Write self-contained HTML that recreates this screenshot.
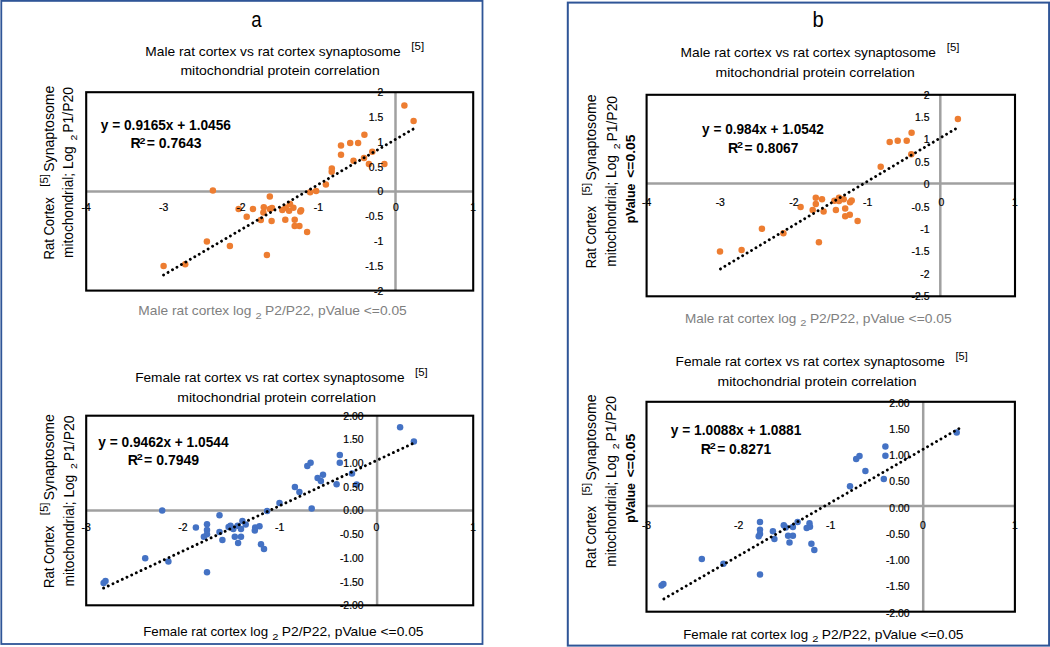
<!DOCTYPE html><html><head><meta charset="utf-8"><style>html,body{margin:0;padding:0;background:#fff;}svg{display:block;}</style></head><body>
<svg width="1050" height="647" viewBox="0 0 1050 647" font-family='"Liberation Sans", sans-serif'>
<rect x="0" y="0" width="1050" height="647" fill="#fff"/>
<rect x="1.3" y="0.9" width="481.2" height="643.1" fill="none" stroke="#2F5597" stroke-width="1.8"/>
<rect x="567.8" y="2.6" width="481.3" height="643" fill="none" stroke="#2F5597" stroke-width="2"/>
<text x="251.20" y="26.80" font-size="22" textLength="10.40" lengthAdjust="spacingAndGlyphs">a</text>
<text x="812.60" y="26.80" font-size="22" textLength="11.20" lengthAdjust="spacingAndGlyphs">b</text>
<line x1="86.20" y1="191.40" x2="473.20" y2="191.40" stroke="#A0A0A0" stroke-width="2.5"/>
<line x1="395.50" y1="92.20" x2="395.50" y2="290.60" stroke="#A0A0A0" stroke-width="2.5"/>
<rect x="86.20" y="92.20" width="387.00" height="198.40" fill="none" stroke="#000" stroke-width="2.1"/>
<circle cx="163.6" cy="266.0" r="3.25" fill="#ED7D31"/>
<circle cx="185.2" cy="264.3" r="3.25" fill="#ED7D31"/>
<circle cx="206.9" cy="241.4" r="3.25" fill="#ED7D31"/>
<circle cx="229.9" cy="246.0" r="3.25" fill="#ED7D31"/>
<circle cx="212.9" cy="190.4" r="3.25" fill="#ED7D31"/>
<circle cx="238.6" cy="209.0" r="3.25" fill="#ED7D31"/>
<circle cx="246.7" cy="216.7" r="3.25" fill="#ED7D31"/>
<circle cx="253.0" cy="209.0" r="3.25" fill="#ED7D31"/>
<circle cx="260.8" cy="220.1" r="3.25" fill="#ED7D31"/>
<circle cx="263.8" cy="207.3" r="3.25" fill="#ED7D31"/>
<circle cx="263.4" cy="212.4" r="3.25" fill="#ED7D31"/>
<circle cx="269.8" cy="196.6" r="3.25" fill="#ED7D31"/>
<circle cx="269.8" cy="209.0" r="3.25" fill="#ED7D31"/>
<circle cx="271.6" cy="221.0" r="3.25" fill="#ED7D31"/>
<circle cx="272.0" cy="208.1" r="3.25" fill="#ED7D31"/>
<circle cx="266.9" cy="255.0" r="3.25" fill="#ED7D31"/>
<circle cx="282.3" cy="209.9" r="3.25" fill="#ED7D31"/>
<circle cx="285.7" cy="207.7" r="3.25" fill="#ED7D31"/>
<circle cx="290.0" cy="203.9" r="3.25" fill="#ED7D31"/>
<circle cx="289.1" cy="210.7" r="3.25" fill="#ED7D31"/>
<circle cx="293.4" cy="207.7" r="3.25" fill="#ED7D31"/>
<circle cx="285.3" cy="219.7" r="3.25" fill="#ED7D31"/>
<circle cx="294.7" cy="219.7" r="3.25" fill="#ED7D31"/>
<circle cx="294.7" cy="226.1" r="3.25" fill="#ED7D31"/>
<circle cx="299.4" cy="226.1" r="3.25" fill="#ED7D31"/>
<circle cx="300.3" cy="211.6" r="3.25" fill="#ED7D31"/>
<circle cx="301.1" cy="210.3" r="3.25" fill="#ED7D31"/>
<circle cx="307.1" cy="232.1" r="3.25" fill="#ED7D31"/>
<circle cx="310.1" cy="192.3" r="3.25" fill="#ED7D31"/>
<circle cx="316.1" cy="191.0" r="3.25" fill="#ED7D31"/>
<circle cx="325.9" cy="184.5" r="3.25" fill="#ED7D31"/>
<circle cx="331.7" cy="171.7" r="3.25" fill="#ED7D31"/>
<circle cx="331.8" cy="168.6" r="3.25" fill="#ED7D31"/>
<circle cx="341.0" cy="145.6" r="3.25" fill="#ED7D31"/>
<circle cx="341.0" cy="154.8" r="3.25" fill="#ED7D31"/>
<circle cx="350.2" cy="143.0" r="3.25" fill="#ED7D31"/>
<circle cx="358.1" cy="143.0" r="3.25" fill="#ED7D31"/>
<circle cx="364.4" cy="134.8" r="3.25" fill="#ED7D31"/>
<circle cx="353.5" cy="160.7" r="3.25" fill="#ED7D31"/>
<circle cx="364.0" cy="158.1" r="3.25" fill="#ED7D31"/>
<circle cx="368.9" cy="164.0" r="3.25" fill="#ED7D31"/>
<circle cx="372.3" cy="151.8" r="3.25" fill="#ED7D31"/>
<circle cx="384.4" cy="164.0" r="3.25" fill="#ED7D31"/>
<circle cx="404.4" cy="105.5" r="3.25" fill="#ED7D31"/>
<circle cx="413.6" cy="121.0" r="3.25" fill="#ED7D31"/>
<line x1="163.60" y1="275.00" x2="413.30" y2="129.00" stroke="#000" stroke-width="2.9" stroke-linecap="round" stroke-dasharray="0.01 5.15"/>
<text x="86.20" y="210.90" font-size="10.4" text-anchor="middle" stroke="#000" stroke-width="0.2">-4</text>
<text x="163.60" y="210.90" font-size="10.4" text-anchor="middle" stroke="#000" stroke-width="0.2">-3</text>
<text x="241.00" y="210.90" font-size="10.4" text-anchor="middle" stroke="#000" stroke-width="0.2">-2</text>
<text x="318.40" y="210.90" font-size="10.4" text-anchor="middle" stroke="#000" stroke-width="0.2">-1</text>
<text x="395.80" y="210.90" font-size="10.4" text-anchor="middle" stroke="#000" stroke-width="0.2">0</text>
<text x="473.20" y="210.90" font-size="10.4" text-anchor="middle" stroke="#000" stroke-width="0.2">1</text>
<text x="383.20" y="96.10" font-size="10.4" text-anchor="end" stroke="#000" stroke-width="0.2">2</text>
<text x="383.20" y="120.90" font-size="10.4" text-anchor="end" stroke="#000" stroke-width="0.2">1.5</text>
<text x="383.20" y="145.70" font-size="10.4" text-anchor="end" stroke="#000" stroke-width="0.2">1</text>
<text x="383.20" y="170.50" font-size="10.4" text-anchor="end" stroke="#000" stroke-width="0.2">0.5</text>
<text x="383.20" y="195.30" font-size="10.4" text-anchor="end" stroke="#000" stroke-width="0.2">0</text>
<text x="383.20" y="220.10" font-size="10.4" text-anchor="end" stroke="#000" stroke-width="0.2">-0.5</text>
<text x="383.20" y="244.90" font-size="10.4" text-anchor="end" stroke="#000" stroke-width="0.2">-1</text>
<text x="383.20" y="269.70" font-size="10.4" text-anchor="end" stroke="#000" stroke-width="0.2">-1.5</text>
<text x="383.20" y="294.50" font-size="10.4" text-anchor="end" stroke="#000" stroke-width="0.2">-2</text>
<line x1="86.20" y1="510.50" x2="473.20" y2="510.50" stroke="#A0A0A0" stroke-width="2.5"/>
<line x1="377.10" y1="415.70" x2="377.10" y2="605.30" stroke="#A0A0A0" stroke-width="2.5"/>
<rect x="86.20" y="415.70" width="387.00" height="189.60" fill="none" stroke="#000" stroke-width="2.1"/>
<circle cx="103.6" cy="583.0" r="3.25" fill="#4472C4"/>
<circle cx="105.5" cy="581.1" r="3.25" fill="#4472C4"/>
<circle cx="145.2" cy="558.3" r="3.25" fill="#4472C4"/>
<circle cx="168.4" cy="561.5" r="3.25" fill="#4472C4"/>
<circle cx="162.2" cy="510.5" r="3.25" fill="#4472C4"/>
<circle cx="195.9" cy="527.5" r="3.25" fill="#4472C4"/>
<circle cx="207.0" cy="524.3" r="3.25" fill="#4472C4"/>
<circle cx="207.0" cy="530.1" r="3.25" fill="#4472C4"/>
<circle cx="207.0" cy="534.3" r="3.25" fill="#4472C4"/>
<circle cx="203.9" cy="536.8" r="3.25" fill="#4472C4"/>
<circle cx="207.0" cy="572.2" r="3.25" fill="#4472C4"/>
<circle cx="219.5" cy="515.2" r="3.25" fill="#4472C4"/>
<circle cx="219.5" cy="531.9" r="3.25" fill="#4472C4"/>
<circle cx="222.4" cy="540.0" r="3.25" fill="#4472C4"/>
<circle cx="228.6" cy="527.1" r="3.25" fill="#4472C4"/>
<circle cx="230.5" cy="525.7" r="3.25" fill="#4472C4"/>
<circle cx="233.3" cy="529.0" r="3.25" fill="#4472C4"/>
<circle cx="237.6" cy="525.7" r="3.25" fill="#4472C4"/>
<circle cx="241.0" cy="529.0" r="3.25" fill="#4472C4"/>
<circle cx="242.4" cy="521.0" r="3.25" fill="#4472C4"/>
<circle cx="245.7" cy="524.6" r="3.25" fill="#4472C4"/>
<circle cx="234.8" cy="536.7" r="3.25" fill="#4472C4"/>
<circle cx="241.0" cy="536.7" r="3.25" fill="#4472C4"/>
<circle cx="238.1" cy="542.9" r="3.25" fill="#4472C4"/>
<circle cx="255.2" cy="527.6" r="3.25" fill="#4472C4"/>
<circle cx="259.5" cy="526.2" r="3.25" fill="#4472C4"/>
<circle cx="254.8" cy="530.5" r="3.25" fill="#4472C4"/>
<circle cx="261.0" cy="544.3" r="3.25" fill="#4472C4"/>
<circle cx="264.0" cy="549.0" r="3.25" fill="#4472C4"/>
<circle cx="267.1" cy="511.0" r="3.25" fill="#4472C4"/>
<circle cx="279.5" cy="502.9" r="3.25" fill="#4472C4"/>
<circle cx="294.9" cy="487.1" r="3.25" fill="#4472C4"/>
<circle cx="299.4" cy="491.9" r="3.25" fill="#4472C4"/>
<circle cx="307.3" cy="466.0" r="3.25" fill="#4472C4"/>
<circle cx="310.6" cy="462.7" r="3.25" fill="#4472C4"/>
<circle cx="317.6" cy="477.9" r="3.25" fill="#4472C4"/>
<circle cx="320.9" cy="481.1" r="3.25" fill="#4472C4"/>
<circle cx="323.0" cy="474.8" r="3.25" fill="#4472C4"/>
<circle cx="336.6" cy="484.2" r="3.25" fill="#4472C4"/>
<circle cx="339.8" cy="454.9" r="3.25" fill="#4472C4"/>
<circle cx="339.8" cy="462.7" r="3.25" fill="#4472C4"/>
<circle cx="352.0" cy="473.5" r="3.25" fill="#4472C4"/>
<circle cx="356.6" cy="484.4" r="3.25" fill="#4472C4"/>
<circle cx="311.7" cy="508.6" r="3.25" fill="#4472C4"/>
<circle cx="400.1" cy="427.3" r="3.25" fill="#4472C4"/>
<circle cx="413.9" cy="441.4" r="3.25" fill="#4472C4"/>
<line x1="103.60" y1="588.10" x2="412.80" y2="443.50" stroke="#000" stroke-width="2.9" stroke-linecap="round" stroke-dasharray="0.01 5.15"/>
<text x="86.20" y="531.10" font-size="10.4" text-anchor="middle" stroke="#000" stroke-width="0.2">-3</text>
<text x="182.95" y="531.10" font-size="10.4" text-anchor="middle" stroke="#000" stroke-width="0.2">-2</text>
<text x="279.70" y="531.10" font-size="10.4" text-anchor="middle" stroke="#000" stroke-width="0.2">-1</text>
<text x="376.45" y="531.10" font-size="10.4" text-anchor="middle" stroke="#000" stroke-width="0.2">0</text>
<text x="473.20" y="531.10" font-size="10.4" text-anchor="middle" stroke="#000" stroke-width="0.2">1</text>
<text x="363.60" y="419.60" font-size="10.4" text-anchor="end" stroke="#000" stroke-width="0.2">2.00</text>
<text x="363.60" y="443.30" font-size="10.4" text-anchor="end" stroke="#000" stroke-width="0.2">1.50</text>
<text x="363.60" y="467.00" font-size="10.4" text-anchor="end" stroke="#000" stroke-width="0.2">1.00</text>
<text x="363.60" y="490.70" font-size="10.4" text-anchor="end" stroke="#000" stroke-width="0.2">0.50</text>
<text x="363.60" y="514.40" font-size="10.4" text-anchor="end" stroke="#000" stroke-width="0.2">0.00</text>
<text x="363.60" y="538.10" font-size="10.4" text-anchor="end" stroke="#000" stroke-width="0.2">-0.50</text>
<text x="363.60" y="561.80" font-size="10.4" text-anchor="end" stroke="#000" stroke-width="0.2">-1.00</text>
<text x="363.60" y="585.50" font-size="10.4" text-anchor="end" stroke="#000" stroke-width="0.2">-1.50</text>
<text x="363.60" y="609.20" font-size="10.4" text-anchor="end" stroke="#000" stroke-width="0.2">-2.00</text>
<line x1="646.60" y1="183.60" x2="1015.00" y2="183.60" stroke="#A0A0A0" stroke-width="2.5"/>
<line x1="940.30" y1="94.80" x2="940.30" y2="296.30" stroke="#A0A0A0" stroke-width="2.5"/>
<rect x="646.60" y="94.80" width="368.40" height="201.50" fill="none" stroke="#000" stroke-width="2.1"/>
<circle cx="720.0" cy="251.6" r="3.25" fill="#ED7D31"/>
<circle cx="741.6" cy="250.0" r="3.25" fill="#ED7D31"/>
<circle cx="761.9" cy="228.7" r="3.25" fill="#ED7D31"/>
<circle cx="783.4" cy="233.3" r="3.25" fill="#ED7D31"/>
<circle cx="800.6" cy="207.0" r="3.25" fill="#ED7D31"/>
<circle cx="812.7" cy="210.0" r="3.25" fill="#ED7D31"/>
<circle cx="815.8" cy="203.9" r="3.25" fill="#ED7D31"/>
<circle cx="815.8" cy="197.7" r="3.25" fill="#ED7D31"/>
<circle cx="822.0" cy="199.2" r="3.25" fill="#ED7D31"/>
<circle cx="823.6" cy="211.6" r="3.25" fill="#ED7D31"/>
<circle cx="818.9" cy="242.3" r="3.25" fill="#ED7D31"/>
<circle cx="834.4" cy="200.8" r="3.25" fill="#ED7D31"/>
<circle cx="839.0" cy="197.7" r="3.25" fill="#ED7D31"/>
<circle cx="839.0" cy="201.1" r="3.25" fill="#ED7D31"/>
<circle cx="843.7" cy="199.2" r="3.25" fill="#ED7D31"/>
<circle cx="850.1" cy="202.3" r="3.25" fill="#ED7D31"/>
<circle cx="851.7" cy="200.5" r="3.25" fill="#ED7D31"/>
<circle cx="835.9" cy="210.0" r="3.25" fill="#ED7D31"/>
<circle cx="845.2" cy="208.5" r="3.25" fill="#ED7D31"/>
<circle cx="845.2" cy="216.2" r="3.25" fill="#ED7D31"/>
<circle cx="849.8" cy="214.7" r="3.25" fill="#ED7D31"/>
<circle cx="857.6" cy="220.9" r="3.25" fill="#ED7D31"/>
<circle cx="880.7" cy="166.7" r="3.25" fill="#ED7D31"/>
<circle cx="889.7" cy="142.1" r="3.25" fill="#ED7D31"/>
<circle cx="897.7" cy="140.7" r="3.25" fill="#ED7D31"/>
<circle cx="906.7" cy="140.7" r="3.25" fill="#ED7D31"/>
<circle cx="911.6" cy="132.7" r="3.25" fill="#ED7D31"/>
<circle cx="911.3" cy="154.3" r="3.25" fill="#ED7D31"/>
<circle cx="957.9" cy="119.0" r="3.25" fill="#ED7D31"/>
<line x1="720.50" y1="268.90" x2="956.00" y2="128.60" stroke="#000" stroke-width="2.9" stroke-linecap="round" stroke-dasharray="0.01 5.15"/>
<text x="646.60" y="206.00" font-size="10.4" text-anchor="middle" stroke="#000" stroke-width="0.2">-4</text>
<text x="720.28" y="206.00" font-size="10.4" text-anchor="middle" stroke="#000" stroke-width="0.2">-3</text>
<text x="793.96" y="206.00" font-size="10.4" text-anchor="middle" stroke="#000" stroke-width="0.2">-2</text>
<text x="867.64" y="206.00" font-size="10.4" text-anchor="middle" stroke="#000" stroke-width="0.2">-1</text>
<text x="941.32" y="206.00" font-size="10.4" text-anchor="middle" stroke="#000" stroke-width="0.2">0</text>
<text x="1015.00" y="206.00" font-size="10.4" text-anchor="middle" stroke="#000" stroke-width="0.2">1</text>
<text x="929.50" y="98.70" font-size="10.4" text-anchor="end" stroke="#000" stroke-width="0.2">2</text>
<text x="929.50" y="121.09" font-size="10.4" text-anchor="end" stroke="#000" stroke-width="0.2">1.5</text>
<text x="929.50" y="143.48" font-size="10.4" text-anchor="end" stroke="#000" stroke-width="0.2">1</text>
<text x="929.50" y="165.87" font-size="10.4" text-anchor="end" stroke="#000" stroke-width="0.2">0.5</text>
<text x="929.50" y="188.26" font-size="10.4" text-anchor="end" stroke="#000" stroke-width="0.2">0</text>
<text x="929.50" y="210.64" font-size="10.4" text-anchor="end" stroke="#000" stroke-width="0.2">-0.5</text>
<text x="929.50" y="233.03" font-size="10.4" text-anchor="end" stroke="#000" stroke-width="0.2">-1</text>
<text x="929.50" y="255.42" font-size="10.4" text-anchor="end" stroke="#000" stroke-width="0.2">-1.5</text>
<text x="929.50" y="277.81" font-size="10.4" text-anchor="end" stroke="#000" stroke-width="0.2">-2</text>
<text x="929.50" y="300.20" font-size="10.4" text-anchor="end" stroke="#000" stroke-width="0.2">-2.5</text>
<line x1="646.50" y1="506.00" x2="1014.90" y2="506.00" stroke="#A0A0A0" stroke-width="2.5"/>
<line x1="923.20" y1="401.80" x2="923.20" y2="611.70" stroke="#A0A0A0" stroke-width="2.5"/>
<rect x="646.50" y="401.80" width="368.40" height="209.90" fill="none" stroke="#000" stroke-width="2.1"/>
<circle cx="661.6" cy="585.4" r="3.25" fill="#4472C4"/>
<circle cx="663.4" cy="583.9" r="3.25" fill="#4472C4"/>
<circle cx="701.8" cy="559.1" r="3.25" fill="#4472C4"/>
<circle cx="723.4" cy="563.8" r="3.25" fill="#4472C4"/>
<circle cx="760.0" cy="574.6" r="3.25" fill="#4472C4"/>
<circle cx="760.0" cy="522.1" r="3.25" fill="#4472C4"/>
<circle cx="760.0" cy="529.8" r="3.25" fill="#4472C4"/>
<circle cx="760.0" cy="534.0" r="3.25" fill="#4472C4"/>
<circle cx="758.7" cy="536.3" r="3.25" fill="#4472C4"/>
<circle cx="772.9" cy="531.3" r="3.25" fill="#4472C4"/>
<circle cx="774.4" cy="539.1" r="3.25" fill="#4472C4"/>
<circle cx="783.8" cy="525.2" r="3.25" fill="#4472C4"/>
<circle cx="785.7" cy="527.6" r="3.25" fill="#4472C4"/>
<circle cx="792.9" cy="527.1" r="3.25" fill="#4472C4"/>
<circle cx="797.6" cy="521.9" r="3.25" fill="#4472C4"/>
<circle cx="788.1" cy="535.7" r="3.25" fill="#4472C4"/>
<circle cx="792.9" cy="535.7" r="3.25" fill="#4472C4"/>
<circle cx="789.5" cy="542.4" r="3.25" fill="#4472C4"/>
<circle cx="809.5" cy="523.3" r="3.25" fill="#4472C4"/>
<circle cx="810.0" cy="526.7" r="3.25" fill="#4472C4"/>
<circle cx="806.7" cy="528.1" r="3.25" fill="#4472C4"/>
<circle cx="811.4" cy="543.8" r="3.25" fill="#4472C4"/>
<circle cx="814.3" cy="550.0" r="3.25" fill="#4472C4"/>
<circle cx="850.0" cy="486.3" r="3.25" fill="#4472C4"/>
<circle cx="856.2" cy="459.0" r="3.25" fill="#4472C4"/>
<circle cx="859.5" cy="456.0" r="3.25" fill="#4472C4"/>
<circle cx="865.4" cy="471.1" r="3.25" fill="#4472C4"/>
<circle cx="885.4" cy="446.4" r="3.25" fill="#4472C4"/>
<circle cx="885.4" cy="455.7" r="3.25" fill="#4472C4"/>
<circle cx="883.8" cy="478.9" r="3.25" fill="#4472C4"/>
<circle cx="956.7" cy="432.6" r="3.25" fill="#4472C4"/>
<line x1="663.90" y1="598.90" x2="960.50" y2="427.70" stroke="#000" stroke-width="2.9" stroke-linecap="round" stroke-dasharray="0.01 5.15"/>
<text x="646.50" y="529.30" font-size="10.4" text-anchor="middle" stroke="#000" stroke-width="0.2">-3</text>
<text x="738.60" y="529.30" font-size="10.4" text-anchor="middle" stroke="#000" stroke-width="0.2">-2</text>
<text x="830.70" y="529.30" font-size="10.4" text-anchor="middle" stroke="#000" stroke-width="0.2">-1</text>
<text x="922.80" y="529.30" font-size="10.4" text-anchor="middle" stroke="#000" stroke-width="0.2">0</text>
<text x="1014.90" y="529.30" font-size="10.4" text-anchor="middle" stroke="#000" stroke-width="0.2">1</text>
<text x="909.60" y="406.70" font-size="10.4" text-anchor="end" stroke="#000" stroke-width="0.2">2.00</text>
<text x="909.60" y="432.94" font-size="10.4" text-anchor="end" stroke="#000" stroke-width="0.2">1.50</text>
<text x="909.60" y="459.18" font-size="10.4" text-anchor="end" stroke="#000" stroke-width="0.2">1.00</text>
<text x="909.60" y="485.41" font-size="10.4" text-anchor="end" stroke="#000" stroke-width="0.2">0.50</text>
<text x="909.60" y="511.65" font-size="10.4" text-anchor="end" stroke="#000" stroke-width="0.2">0.00</text>
<text x="909.60" y="537.89" font-size="10.4" text-anchor="end" stroke="#000" stroke-width="0.2">-0.50</text>
<text x="909.60" y="564.13" font-size="10.4" text-anchor="end" stroke="#000" stroke-width="0.2">-1.00</text>
<text x="909.60" y="590.36" font-size="10.4" text-anchor="end" stroke="#000" stroke-width="0.2">-1.50</text>
<text x="909.60" y="616.60" font-size="10.4" text-anchor="end" stroke="#000" stroke-width="0.2">-2.00</text>
<text x="145.30" y="55.70" font-size="13.2" textLength="255.40" lengthAdjust="spacingAndGlyphs">Male rat cortex vs rat cortex synaptosome</text>
<text x="411.30" y="49.50" font-size="11.0" textLength="12.80" lengthAdjust="spacingAndGlyphs">[5]</text>
<text x="180.40" y="75.40" font-size="13.2" textLength="199.30" lengthAdjust="spacingAndGlyphs">mitochondrial protein correlation</text>
<text x="135.20" y="381.60" font-size="13.2" textLength="269.40" lengthAdjust="spacingAndGlyphs">Female rat cortex vs rat cortex synaptosome</text>
<text x="415.00" y="375.90" font-size="11.0" textLength="12.70" lengthAdjust="spacingAndGlyphs">[5]</text>
<text x="177.30" y="401.70" font-size="13.2" textLength="198.60" lengthAdjust="spacingAndGlyphs">mitochondrial protein correlation</text>
<text x="680.60" y="57.10" font-size="13.2" textLength="255.40" lengthAdjust="spacingAndGlyphs">Male rat cortex vs rat cortex synaptosome</text>
<text x="946.80" y="50.70" font-size="11.0" textLength="12.70" lengthAdjust="spacingAndGlyphs">[5]</text>
<text x="715.60" y="76.90" font-size="13.2" textLength="199.10" lengthAdjust="spacingAndGlyphs">mitochondrial protein correlation</text>
<text x="675.60" y="366.00" font-size="13.2" textLength="269.30" lengthAdjust="spacingAndGlyphs">Female rat cortex vs rat cortex synaptosome</text>
<text x="955.60" y="360.20" font-size="11.0" textLength="12.10" lengthAdjust="spacingAndGlyphs">[5]</text>
<text x="717.50" y="386.00" font-size="13.2" textLength="199.10" lengthAdjust="spacingAndGlyphs">mitochondrial protein correlation</text>
<text x="100.80" y="129.50" font-size="14.2" font-weight="bold" textLength="130.10" lengthAdjust="spacingAndGlyphs">y = 0.9165x + 1.0456</text>
<text x="130.40" y="148.30" font-size="14.2" font-weight="bold" textLength="10.20" lengthAdjust="spacingAndGlyphs">R</text>
<text x="139.40" y="143.50" font-size="9.2" font-weight="bold" textLength="6.00" lengthAdjust="spacingAndGlyphs">2</text>
<text x="146.80" y="148.30" font-size="14.2" font-weight="bold" textLength="54.80" lengthAdjust="spacingAndGlyphs">= 0.7643</text>
<text x="98.30" y="446.50" font-size="14.2" font-weight="bold" textLength="130.20" lengthAdjust="spacingAndGlyphs">y = 0.9462x + 1.0544</text>
<text x="127.70" y="464.70" font-size="14.2" font-weight="bold" textLength="10.20" lengthAdjust="spacingAndGlyphs">R</text>
<text x="136.70" y="459.90" font-size="9.2" font-weight="bold" textLength="6.00" lengthAdjust="spacingAndGlyphs">2</text>
<text x="144.10" y="464.70" font-size="14.2" font-weight="bold" textLength="55.10" lengthAdjust="spacingAndGlyphs">= 0.7949</text>
<text x="702.10" y="134.20" font-size="14.2" font-weight="bold" textLength="121.80" lengthAdjust="spacingAndGlyphs">y = 0.984x + 1.0542</text>
<text x="728.10" y="152.50" font-size="14.2" font-weight="bold" textLength="10.20" lengthAdjust="spacingAndGlyphs">R</text>
<text x="737.10" y="147.70" font-size="9.2" font-weight="bold" textLength="6.00" lengthAdjust="spacingAndGlyphs">2</text>
<text x="744.50" y="152.50" font-size="14.2" font-weight="bold" textLength="53.80" lengthAdjust="spacingAndGlyphs">= 0.8067</text>
<text x="670.80" y="435.10" font-size="14.2" font-weight="bold" textLength="130.50" lengthAdjust="spacingAndGlyphs">y = 1.0088x + 1.0881</text>
<text x="700.80" y="453.50" font-size="14.2" font-weight="bold" textLength="10.20" lengthAdjust="spacingAndGlyphs">R</text>
<text x="709.80" y="448.70" font-size="9.2" font-weight="bold" textLength="6.00" lengthAdjust="spacingAndGlyphs">2</text>
<text x="717.20" y="453.50" font-size="14.2" font-weight="bold" textLength="54.10" lengthAdjust="spacingAndGlyphs">= 0.8271</text>
<g fill="#7F7F7F">
<text x="138.30" y="315.20" font-size="13.2" fill="#7F7F7F" textLength="113.10" lengthAdjust="spacingAndGlyphs">Male rat cortex log</text>
<text x="255.50" y="318.50" font-size="9.2" fill="#7F7F7F" textLength="6.20" lengthAdjust="spacingAndGlyphs">2</text>
<text x="265.10" y="315.20" font-size="13.2" fill="#7F7F7F" textLength="141.70" lengthAdjust="spacingAndGlyphs">P2/P22, pValue &lt;=0.05</text>
</g>
<g fill="#000">
<text x="143.20" y="636.40" font-size="13.2" textLength="124.90" lengthAdjust="spacingAndGlyphs">Female rat cortex log</text>
<text x="272.20" y="639.70" font-size="9.2" textLength="6.20" lengthAdjust="spacingAndGlyphs">2</text>
<text x="281.80" y="636.40" font-size="13.2" textLength="141.70" lengthAdjust="spacingAndGlyphs">P2/P22, pValue &lt;=0.05</text>
</g>
<g fill="#7F7F7F">
<text x="684.90" y="322.90" font-size="13.2" fill="#7F7F7F" textLength="111.30" lengthAdjust="spacingAndGlyphs">Male rat cortex log</text>
<text x="800.30" y="326.20" font-size="9.2" fill="#7F7F7F" textLength="6.20" lengthAdjust="spacingAndGlyphs">2</text>
<text x="809.90" y="322.90" font-size="13.2" fill="#7F7F7F" textLength="141.70" lengthAdjust="spacingAndGlyphs">P2/P22, pValue &lt;=0.05</text>
</g>
<g fill="#000">
<text x="683.20" y="639.00" font-size="13.2" textLength="124.90" lengthAdjust="spacingAndGlyphs">Female rat cortex log</text>
<text x="812.20" y="642.30" font-size="9.2" textLength="6.20" lengthAdjust="spacingAndGlyphs">2</text>
<text x="821.80" y="639.00" font-size="13.2" textLength="141.70" lengthAdjust="spacingAndGlyphs">P2/P22, pValue &lt;=0.05</text>
</g>
<text x="53.80" y="259.50" font-size="13.8" textLength="62.30" lengthAdjust="spacingAndGlyphs" transform="rotate(-90 53.80 259.50)">Rat Cortex</text>
<text x="47.80" y="186.80" font-size="11" textLength="12.80" lengthAdjust="spacingAndGlyphs" transform="rotate(-90 47.80 186.80)">[5]</text>
<text x="53.80" y="171.80" font-size="13.8" textLength="86.20" lengthAdjust="spacingAndGlyphs" transform="rotate(-90 53.80 171.80)">Synaptosome</text>
<text x="73.40" y="257.90" font-size="13.8" textLength="111.60" lengthAdjust="spacingAndGlyphs" transform="rotate(-90 73.40 257.90)">mitochondrial; Log</text>
<text x="76.60" y="140.50" font-size="9.4" textLength="5.80" lengthAdjust="spacingAndGlyphs" transform="rotate(-90 76.60 140.50)">2</text>
<text x="73.40" y="132.70" font-size="13.8" textLength="45.60" lengthAdjust="spacingAndGlyphs" transform="rotate(-90 73.40 132.70)">P1/P20</text>
<text x="54.00" y="588.00" font-size="13.8" textLength="62.30" lengthAdjust="spacingAndGlyphs" transform="rotate(-90 54.00 588.00)">Rat Cortex</text>
<text x="48.00" y="515.30" font-size="11" textLength="12.80" lengthAdjust="spacingAndGlyphs" transform="rotate(-90 48.00 515.30)">[5]</text>
<text x="54.00" y="500.30" font-size="13.8" textLength="86.20" lengthAdjust="spacingAndGlyphs" transform="rotate(-90 54.00 500.30)">Synaptosome</text>
<text x="73.60" y="586.40" font-size="13.8" textLength="111.60" lengthAdjust="spacingAndGlyphs" transform="rotate(-90 73.60 586.40)">mitochondrial; Log</text>
<text x="76.80" y="469.00" font-size="9.4" textLength="5.80" lengthAdjust="spacingAndGlyphs" transform="rotate(-90 76.80 469.00)">2</text>
<text x="73.60" y="461.20" font-size="13.8" textLength="45.60" lengthAdjust="spacingAndGlyphs" transform="rotate(-90 73.60 461.20)">P1/P20</text>
<text x="596.30" y="268.30" font-size="13.8" textLength="62.30" lengthAdjust="spacingAndGlyphs" transform="rotate(-90 596.30 268.30)">Rat Cortex</text>
<text x="590.30" y="195.60" font-size="11" textLength="12.80" lengthAdjust="spacingAndGlyphs" transform="rotate(-90 590.30 195.60)">[5]</text>
<text x="596.30" y="180.60" font-size="13.8" textLength="86.20" lengthAdjust="spacingAndGlyphs" transform="rotate(-90 596.30 180.60)">Synaptosome</text>
<text x="616.50" y="266.70" font-size="13.8" textLength="111.60" lengthAdjust="spacingAndGlyphs" transform="rotate(-90 616.50 266.70)">mitochondrial; Log</text>
<text x="619.70" y="149.30" font-size="9.4" textLength="5.80" lengthAdjust="spacingAndGlyphs" transform="rotate(-90 619.70 149.30)">2</text>
<text x="616.50" y="141.50" font-size="13.8" textLength="45.60" lengthAdjust="spacingAndGlyphs" transform="rotate(-90 616.50 141.50)">P1/P20</text>
<text x="634.70" y="223.30" font-size="13.4" font-weight="bold" textLength="39.70" lengthAdjust="spacingAndGlyphs" transform="rotate(-90 634.70 223.30)">pValue</text>
<text x="634.70" y="177.80" font-size="13.4" font-weight="bold" textLength="43.40" lengthAdjust="spacingAndGlyphs" transform="rotate(-90 634.70 177.80)">&lt;=0.05</text>
<text x="596.50" y="568.30" font-size="13.8" textLength="62.30" lengthAdjust="spacingAndGlyphs" transform="rotate(-90 596.50 568.30)">Rat Cortex</text>
<text x="590.50" y="495.60" font-size="11" textLength="12.80" lengthAdjust="spacingAndGlyphs" transform="rotate(-90 590.50 495.60)">[5]</text>
<text x="596.50" y="480.60" font-size="13.8" textLength="86.20" lengthAdjust="spacingAndGlyphs" transform="rotate(-90 596.50 480.60)">Synaptosome</text>
<text x="616.20" y="566.70" font-size="13.8" textLength="111.60" lengthAdjust="spacingAndGlyphs" transform="rotate(-90 616.20 566.70)">mitochondrial; Log</text>
<text x="619.40" y="449.30" font-size="9.4" textLength="5.80" lengthAdjust="spacingAndGlyphs" transform="rotate(-90 619.40 449.30)">2</text>
<text x="616.20" y="441.50" font-size="13.8" textLength="45.60" lengthAdjust="spacingAndGlyphs" transform="rotate(-90 616.20 441.50)">P1/P20</text>
<text x="634.70" y="522.80" font-size="13.4" font-weight="bold" textLength="39.70" lengthAdjust="spacingAndGlyphs" transform="rotate(-90 634.70 522.80)">pValue</text>
<text x="634.70" y="477.30" font-size="13.4" font-weight="bold" textLength="43.50" lengthAdjust="spacingAndGlyphs" transform="rotate(-90 634.70 477.30)">&lt;=0.05</text>
</svg></body></html>
